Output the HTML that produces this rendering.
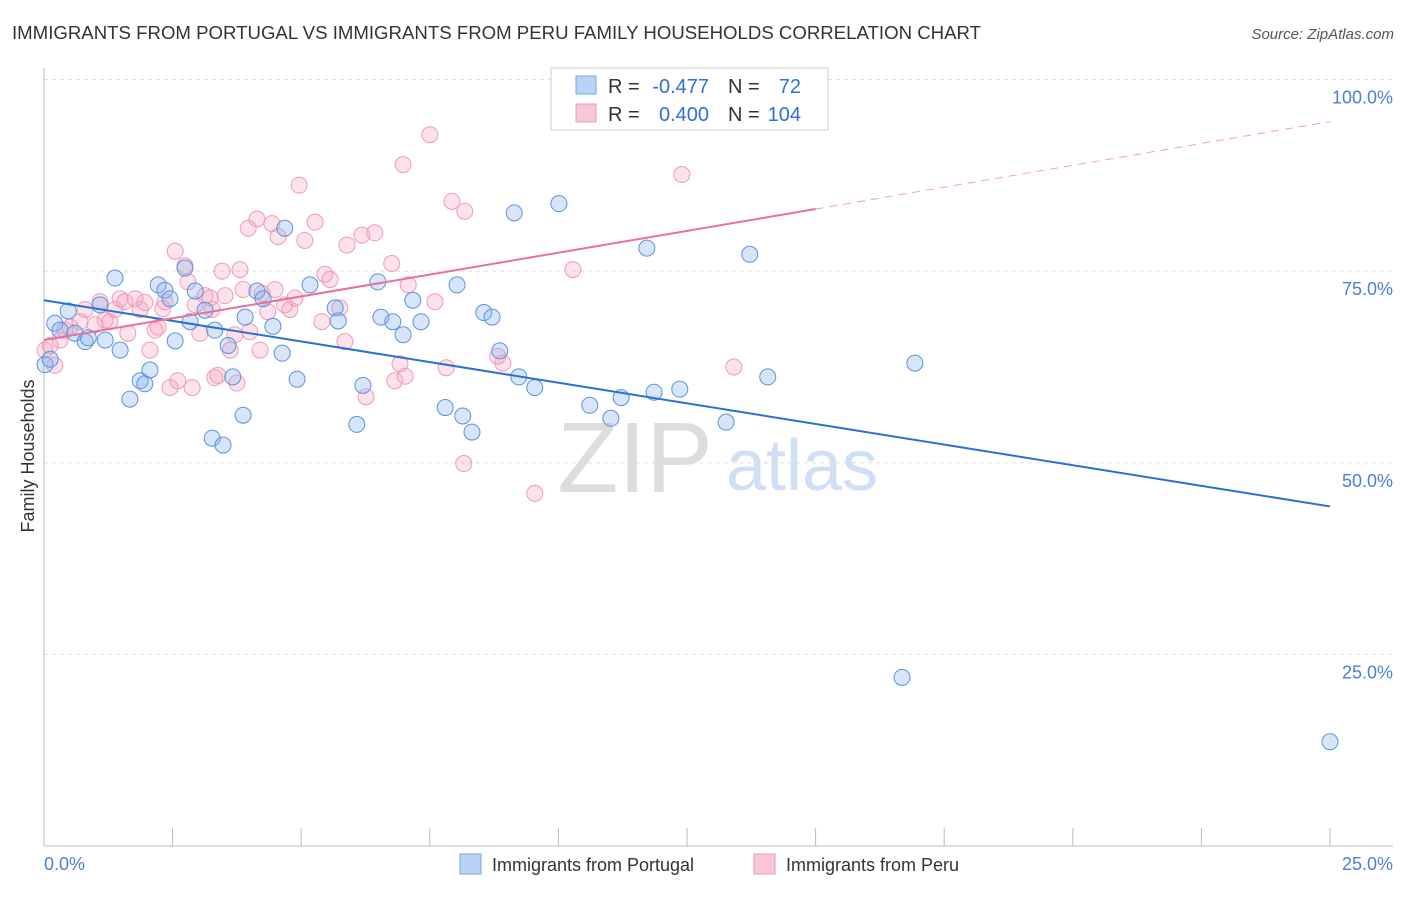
<!DOCTYPE html>
<html><head><meta charset="utf-8"><style>
body{margin:0;background:#fff;font-family:"Liberation Sans",sans-serif;}
svg text{font-family:"Liberation Sans",sans-serif;}
</style></head><body>
<svg id="c" width="1406" height="892" xmlns="http://www.w3.org/2000/svg">
<text x="12" y="39" font-size="18" fill="#333" textLength="969" lengthAdjust="spacingAndGlyphs">IMMIGRANTS FROM PORTUGAL VS IMMIGRANTS FROM PERU FAMILY HOUSEHOLDS CORRELATION CHART</text>
<text x="1394" y="39" font-size="15" fill="#555" text-anchor="end" font-style="italic">Source: ZipAtlas.com</text>
<g>
<text x="635" y="492" font-size="100" fill="#ddd" font-family="Liberation Serif" text-anchor="middle">ZIP</text>
<text x="802" y="490" font-size="72" fill="#cfe0f5" text-anchor="middle">atlas</text>
</g>
<g id="grid"></g><g id="axes"></g><g id="marks"></g>
<text transform="translate(34,456) rotate(-90)" font-size="18" fill="#333" text-anchor="middle">Family Households</text>
<g>
<rect x="551" y="68" width="277" height="62" fill="#fff" stroke="#ccc"/>
<rect x="576" y="76" width="20" height="18" fill="#b8d3f5" stroke="#7aa6e0"/>
<rect x="576" y="104" width="20" height="18" fill="#f9c8d8" stroke="#e89ab4"/>
<text x="608" y="93" font-size="20" fill="#333">R =</text>
<text x="709" y="93" font-size="20" fill="#2f6fd6" text-anchor="end">-0.477</text>
<text x="728" y="93" font-size="20" fill="#333">N =</text>
<text x="801" y="93" font-size="20" fill="#2f6fd6" text-anchor="end">72</text>
<text x="608" y="121" font-size="20" fill="#333">R =</text>
<text x="709" y="121" font-size="20" fill="#2f6fd6" text-anchor="end">0.400</text>
<text x="728" y="121" font-size="20" fill="#333">N =</text>
<text x="801" y="121" font-size="20" fill="#2f6fd6" text-anchor="end">104</text>
</g>
<g>
<rect x="460" y="854" width="21" height="20" fill="#b8d3f5" stroke="#7aa6e0"/>
<text x="492" y="871" font-size="18" fill="#333">Immigrants from Portugal</text>
<rect x="754" y="854" width="21" height="20" fill="#f9c8d8" stroke="#e89ab4"/>
<text x="786" y="871" font-size="18" fill="#333">Immigrants from Peru</text>
</g>
</svg>
<script>
const yTicks=[25,50,75,100];
const yTickLabels=["25.0%","50.0%","75.0%","100.0%"];
const xTicks=[0,2.5,5,7.5,10,12.5,15,17.5,20,22.5,25];
const blueX=[0.21,0.47,0.31,0.6,0.8,0.86,1.09,1.38,1.48,1.19,1.67,1.87,1.96,2.06,2.22,2.35,2.45,2.55,2.74,2.84,2.94,3.13,3.27,3.32,3.48,3.58,3.67,3.87,3.91,4.14,4.26,4.45,4.68,4.63,4.92,5.17,5.66,5.72,6.08,6.2,6.49,6.55,6.78,6.98,7.17,7.33,7.8,8.03,8.14,8.32,8.55,8.71,8.86,9.14,9.23,9.54,10.01,10.61,11.02,11.22,11.86,11.72,12.36,13.26,13.72,14.07,16.93,16.68,25.0,0.02,0.12];
const blueY=[68.2,69.8,67.3,66.9,65.8,66.3,70.6,74.1,64.7,66,58.3,60.7,60.3,62.1,73.2,72.5,71.4,65.9,75.4,68.4,72.4,69.9,53.2,67.3,52.3,65.3,61.2,56.2,69,72.4,71.4,67.8,80.6,64.3,60.9,73.2,70.2,68.5,55,60.1,73.6,69,68.4,66.7,71.2,68.4,57.2,73.2,56.1,54,69.6,69,64.6,82.6,61.2,59.8,83.8,57.5,55.8,58.5,59.2,78,59.6,55.3,77.2,61.2,63,22,13.6,62.8,63.5];
const pinkX=[0.02,0.12,0.21,0.31,0.41,0.51,0.7,0.8,0.99,1.09,1.19,1.28,1.38,1.48,1.57,1.63,1.77,1.87,1.96,2.06,2.16,2.22,2.31,2.35,2.45,2.55,2.6,2.74,2.8,2.88,2.94,3.03,3.13,3.23,3.27,3.32,3.38,3.46,3.52,3.62,3.71,3.75,3.81,3.87,3.97,4.0,4.14,4.2,4.24,4.35,4.43,4.49,4.55,4.68,4.78,4.88,4.96,5.07,5.27,5.4,5.46,5.56,5.75,5.85,5.89,6.18,6.26,6.43,6.76,6.82,6.92,6.98,7.02,7.08,7.5,7.6,7.82,7.93,8.16,8.18,8.82,8.92,9.54,10.28,12.4,13.41,13.24,12.36];
const pinkY=[64.7,65.3,62.7,66,67.3,67.7,68.4,70,68,71,68.6,68.4,70,71.4,71,66.9,71.4,70,70.9,64.7,67.3,67.7,70.1,71,59.8,77.6,60.7,75.7,73.6,59.8,70.6,66.9,71.8,71.5,70,61.1,61.4,75,71.8,64.7,66.7,60.4,75.2,72.6,80.6,67.1,81.8,64.7,72.1,69.7,81.2,72.6,79.5,70.6,70,71.5,86.2,79,81.4,68.4,74.6,73.9,70.2,65.8,78.4,79.7,58.6,80,76,60.7,62.9,88.9,61.3,73.2,92.8,71,62.4,84.1,49.9,82.8,63.9,63,46,75.2,87.6,62.5,99.9,99.9];
const blueLine=[[0,71.2],[25,44.3]];
const pinkLine=[[0,66],[15,83.1]];
const pinkDash=[[15,83.1],[25,94.5]];
const sx=v=>44+v/25*1286, sy=v=>846-v/100*766.5;
const NS="http://www.w3.org/2000/svg";
function mk(tag,attrs,parent){const e=document.createElementNS(NS,tag);for(const k in attrs)e.setAttribute(k,attrs[k]);parent.appendChild(e);return e;}
const grid=document.getElementById('grid'),axes=document.getElementById('axes'),marks=document.getElementById('marks');
yTicks.forEach((t,i)=>{
 const l=mk('line',{x1:44,x2:1393,y1:sy(t),y2:sy(t),stroke:'#ddd','stroke-dasharray':'4,4'},grid);
 
 
 const tx=mk('text',{x:1393,y:sy(t)+24,'font-size':18,fill:'#4a7fd4','text-anchor':'end'},axes);
 tx.textContent=yTickLabels[i];
 
 
});
const xa=mk('line',{x1:44,x2:1393,y1:846,y2:846,stroke:'#bbb'},axes);


const ya=mk('line',{x1:44,x2:44,y1:68,y2:846,stroke:'#bbb'},axes);


xTicks.forEach(t=>{const l=mk('line',{x1:sx(t),x2:sx(t),y1:828,y2:846,stroke:'#bbb'},axes);
 
 });
[[0,'0.0%','start',44],[25,'25.0%','end',1393]].forEach(a=>{const tx=mk('text',{x:a[3],y:870,'font-size':18,fill:'#4a7fd4','text-anchor':a[2]},axes);tx.textContent=a[1];
 
 });
pinkX.forEach((x,i)=>{const c=mk('circle',{cx:sx(x),cy:sy(pinkY[i]),r:8,fill:'rgba(245,160,190,0.3)',stroke:'#ef9ab8','stroke-width':1},marks);
 
 });
blueX.forEach((x,i)=>{const c=mk('circle',{cx:sx(x),cy:sy(blueY[i]),r:8,fill:'rgba(140,180,235,0.35)',stroke:'#5b93dc','stroke-width':1},marks);
 
 });
const bl=mk('line',{x1:sx(blueLine[0][0]),y1:sy(blueLine[0][1]),x2:sx(blueLine[1][0]),y2:sy(blueLine[1][1]),stroke:'#2a6fd6','stroke-width':2},marks);


const pl=mk('line',{x1:sx(pinkLine[0][0]),y1:sy(pinkLine[0][1]),x2:sx(pinkLine[1][0]),y2:sy(pinkLine[1][1]),stroke:'#e8709a','stroke-width':2},marks);


const pd=mk('line',{x1:sx(pinkDash[0][0]),y1:sy(pinkDash[0][1]),x2:sx(pinkDash[1][0]),y2:sy(pinkDash[1][1]),stroke:'#eea0bb','stroke-width':1,'stroke-dasharray':'8,6'},marks);


</script>
</body></html>
